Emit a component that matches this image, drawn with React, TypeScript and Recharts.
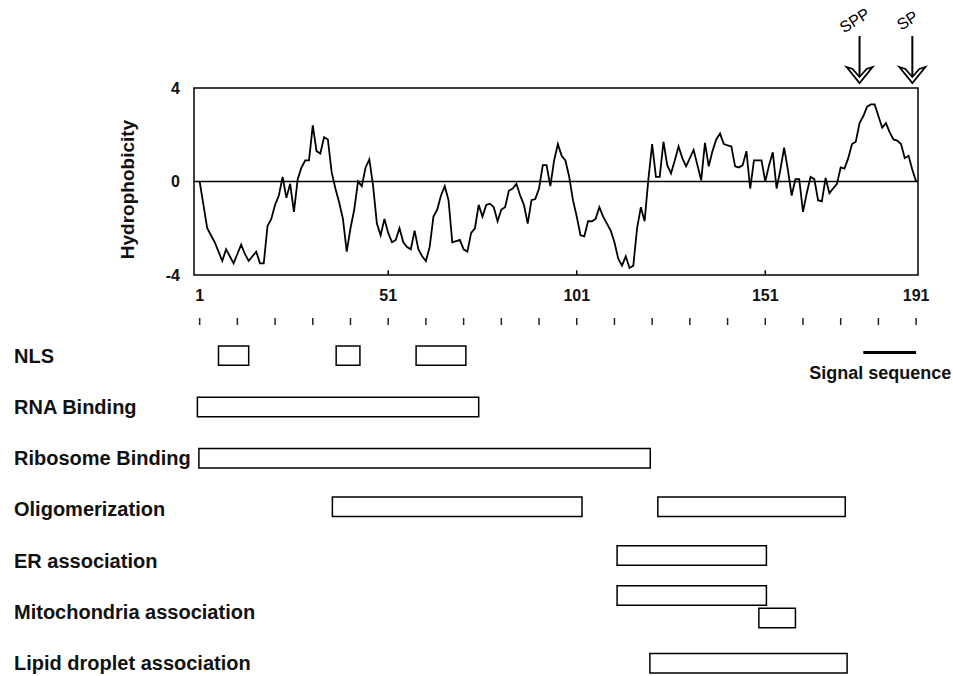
import {
  LineChart,
  Line,
  XAxis,
  YAxis,
  ReferenceLine,
  ReferenceArea,
  ReferenceDot,
  ScatterChart,
  Scatter,
} from 'recharts';

// hydrophobicity per residue, 1..191
const HYDRO = [
  0, -1.0, -2.0, -2.3, -2.6, -3.0, -3.4, -2.9, -3.2, -3.5,
  -3.1, -2.7, -3.1, -3.4, -3.2, -3.0, -3.5, -3.5, -1.9, -1.6,
  -1.0, -0.6, 0.2, -0.7, -0.1, -1.3, 0.1, 0.6, 0.9, 0.9,
  2.4, 1.3, 1.2, 1.9, 1.8, 0.4, -0.3, -0.9, -1.6, -3.0,
  -2.0, -1.2, 0.0, -0.2, 0.6, 0.95, -0.2, -1.8, -2.3, -1.6,
  -2.2, -2.6, -2.5, -2.0, -2.6, -2.8, -2.9, -2.1, -2.9, -3.2,
  -3.4, -2.8, -1.5, -1.2, -0.6, -0.2, -0.8, -2.6, -2.55, -2.5,
  -2.9, -3.0, -2.2, -2.0, -1.0, -1.5, -1.0, -0.95, -1.1, -1.7,
  -1.2, -1.1, -0.4, -0.3, -0.1, -0.6, -1.0, -1.8, -0.8, -0.75,
  -0.3, 0.7, 0.7, -0.2, 0.9, 1.6, 1.1, 0.9, 0.2, -0.8,
  -1.5, -2.3, -2.35, -1.7, -1.7, -1.6, -1.1, -1.5, -1.8, -2.1,
  -2.6, -3.3, -3.6, -3.2, -3.7, -3.6, -2.0, -1.1, -1.7, 0.1,
  1.6, 0.2, 0.2, 1.7, 0.7, 0.35, 0.9, 1.5, 1.0, 0.65,
  1.0, 1.35, 0.7, 0.05, 1.65, 0.65, 1.3, 1.8, 2.05, 1.6,
  1.55, 1.5, 0.65, 0.6, 0.7, 1.3, -0.3, 0.9, 0.9, 0.9,
  0.0, 0.7, 1.25, -0.3, 0.5, 1.45, 0.5, -0.6, 0.1, 0.1,
  -1.3, -0.5, 0.2, 0.1, -0.8, -0.85, 0.15, -0.5, -0.3, -0.1,
  0.6, 0.55, 1.0, 1.6, 1.7, 2.5, 2.8, 3.2, 3.3, 3.3,
  2.8, 2.3, 2.5, 2.1, 1.8, 1.75, 1.6, 1.0, 1.1, 0.5,
  0.0,
];

const X_TICKS = [1, 51, 101, 151, 191];
const RULER_TICKS = [1, 11, 21, 31, 41, 51, 61, 71, 81, 91, 101, 111, 121, 131, 141, 151, 161, 171, 181, 191];
const Y_TICKS = [-4, 0, 4];
const INNER_TICKS = [51, 101, 151];

const CLEAVAGE = [
  { res: 176, name: 'SPP' },
  { res: 190, name: 'SP' },
];

const LANES = [
  'NLS',
  'RNA Binding',
  'Ribosome Binding',
  'Oligomerization',
  'ER association',
  'Mitochondria association',
  'Lipid droplet association',
];

// functional regions: residue start/end and lane
const REGIONS = [
  { start: 6, end: 14, lane: 0 },
  { start: 37.2, end: 43.5, lane: 0 },
  { start: 58.4, end: 71.6, lane: 0 },
  { start: 0.4, end: 75, lane: 1 },
  { start: 0.8, end: 120.5, lane: 2 },
  { start: 36.2, end: 102.4, lane: 2.95 },
  { start: 122.5, end: 172.2, lane: 2.95 },
  { start: 111.7, end: 151.3, lane: 3.9 },
  { start: 111.7, end: 151.3, lane: 4.68 },
  { start: 149.3, end: 159, lane: 5.12 },
  { start: 120.4, end: 172.7, lane: 6 },
];

const SIGNAL = { start: 177, end: 191, lane: -0.06 };

const FONT = '"Liberation Sans", Arial, Helvetica, sans-serif';
const X_DOMAIN: [number, number] = [-0.5, 191.5];

const hydroData = HYDRO.map((h, i) => ({ res: i + 1, h }));
const laneData = LANES.map((name, i) => ({ x: 0, lane: i, name }));

function Arrow({ cx, cy, name }: any) {
  const tip = cy - 5;
  return (
    <g>
      <line x1={cx} y1={cy - 52} x2={cx} y2={tip - 4} stroke="#000" strokeWidth={2} />
      <path
        d={`M${cx - 13},${tip - 16} L${cx},${tip} L${cx + 13},${tip - 16} L${cx + 7},${tip - 14} L${cx},${tip - 6} L${cx - 7},${tip - 14} Z`}
        fill="#fff"
        stroke="#000"
        strokeWidth={1.8}
        strokeLinejoin="miter"
      />
      <text
        x={cx - 2}
        y={cy - 63}
        textAnchor="middle"
        fontFamily={FONT}
        fontSize={16}
        transform={`rotate(-32 ${cx - 2} ${cy - 63})`}
        fill="#000"
      >
        {name}
      </text>
    </g>
  );
}

function RulerMark({ x, y }: any) {
  return <line x1={x} x2={x} y1={y + 3} y2={y + 10} stroke="#222" strokeWidth={1.5} />;
}

function LaneTick({ y, payload }: any) {
  return (
    <text
      x={14}
      y={y}
      dominantBaseline="central"
      fontFamily={FONT}
      fontWeight="bold"
      fontSize={20}
      fill="#111"
    >
      {LANES[payload.value]}
    </text>
  );
}

export default function App() {
  return (
    <div
      style={{
        position: 'fixed',
        left: 0,
        top: 0,
        width: 953,
        height: 676,
        background: '#fff',
        overflow: 'hidden',
      }}
    >
      <div style={{ position: 'absolute', left: 0, top: 0 }}>
        <LineChart
          width={953}
          height={340}
          data={hydroData}
          margin={{ top: 88, right: 35, bottom: 5, left: 110 }}
        >
          <XAxis
            dataKey="res"
            type="number"
            domain={X_DOMAIN}
            ticks={X_TICKS}
            axisLine={false}
            tickLine={false}
            tickSize={6}
            tickMargin={9}
            height={40}
            interval={0}
            tick={{ fill: '#111', fontSize: 16, fontWeight: 'bold', fontFamily: FONT }}
          />
          <XAxis
            xAxisId="ruler"
            dataKey="res"
            type="number"
            domain={X_DOMAIN}
            ticks={RULER_TICKS}
            axisLine={false}
            tickLine={false}
            tickSize={0}
            tickMargin={0}
            height={20}
            interval={0}
            tick={<RulerMark />}
          />
          <YAxis
            type="number"
            domain={[-4, 4]}
            ticks={Y_TICKS}
            width={84}
            axisLine={false}
            tickLine={false}
            tickSize={6}
            tickMargin={8}
            interval={0}
            tick={{ fill: '#111', fontSize: 16, fontWeight: 'bold', fontFamily: FONT }}
            label={(props: any) => {
              const vb = props.viewBox;
              const lx = vb.x + 17;
              const ly = vb.y + vb.height / 2 + 8;
              return (
                <text
                  x={lx}
                  y={ly}
                  textAnchor="middle"
                  dominantBaseline="central"
                  transform={`rotate(-90 ${lx} ${ly})`}
                  fontFamily={FONT}
                  fontWeight="bold"
                  fontSize={19}
                  fill="#111"
                >
                  Hydrophobicity
                </text>
              );
            }}
          />
          <ReferenceArea
            x1={X_DOMAIN[0]}
            x2={X_DOMAIN[1]}
            y1={-4}
            y2={4}
            fill="none"
            fillOpacity={0}
            stroke="#000"
            strokeWidth={1.5}
            ifOverflow="visible"
          />
          <ReferenceLine y={0} stroke="#000" strokeWidth={1.3} />
          {INNER_TICKS.map((t) => (
            <ReferenceLine
              key={t}
              segment={[
                { x: t, y: -4 },
                { x: t, y: -3.8 },
              ]}
              stroke="#000"
              strokeWidth={1.5}
            />
          ))}
          <Line
            type="linear"
            dataKey="h"
            stroke="#000"
            strokeWidth={1.8}
            dot={false}
            isAnimationActive={false}
          />
          {CLEAVAGE.map((c) => (
            <ReferenceDot
              key={c.name}
              x={c.res}
              y={4}
              ifOverflow="visible"
              shape={(p: any) => <Arrow {...p} name={c.name} />}
            />
          ))}
        </LineChart>
      </div>

      <div style={{ position: 'absolute', left: 0, top: 330 }}>
        <ScatterChart width={953} height={346} margin={{ top: 0, right: 35, bottom: 0, left: 0 }}>
          <XAxis dataKey="x" type="number" domain={X_DOMAIN} hide />
          <YAxis
            dataKey="lane"
            type="number"
            domain={[-0.5, 6.25]}
            reversed
            ticks={[0, 1, 2, 3, 4, 5, 6]}
            interval={0}
            width={194}
            axisLine={false}
            tickLine={false}
            tick={<LaneTick />}
          />
          <Scatter data={laneData} fill="none" shape={() => <g />} isAnimationActive={false} />
          {REGIONS.map((r, i) => (
            <ReferenceArea
              key={i}
              x1={r.start}
              x2={r.end}
              y1={r.lane - 0.19}
              y2={r.lane + 0.19}
              fill="#fff"
              fillOpacity={1}
              stroke="#000"
              strokeWidth={1.5}
              ifOverflow="visible"
            />
          ))}
          <ReferenceLine
            segment={[
              { x: SIGNAL.start, y: SIGNAL.lane },
              { x: SIGNAL.end, y: SIGNAL.lane },
            ]}
            stroke="#000"
            strokeWidth={3}
            ifOverflow="visible"
          />
          <ReferenceDot
            x={181.5}
            y={0.34}
            ifOverflow="visible"
            shape={(p: any) => (
              <text
                x={p.cx}
                y={p.cy}
                textAnchor="middle"
                dominantBaseline="central"
                fontFamily={FONT}
                fontWeight="bold"
                fontSize={18}
                fill="#111"
              >
                Signal sequence
              </text>
            )}
          />
        </ScatterChart>
      </div>
    </div>
  );
}
